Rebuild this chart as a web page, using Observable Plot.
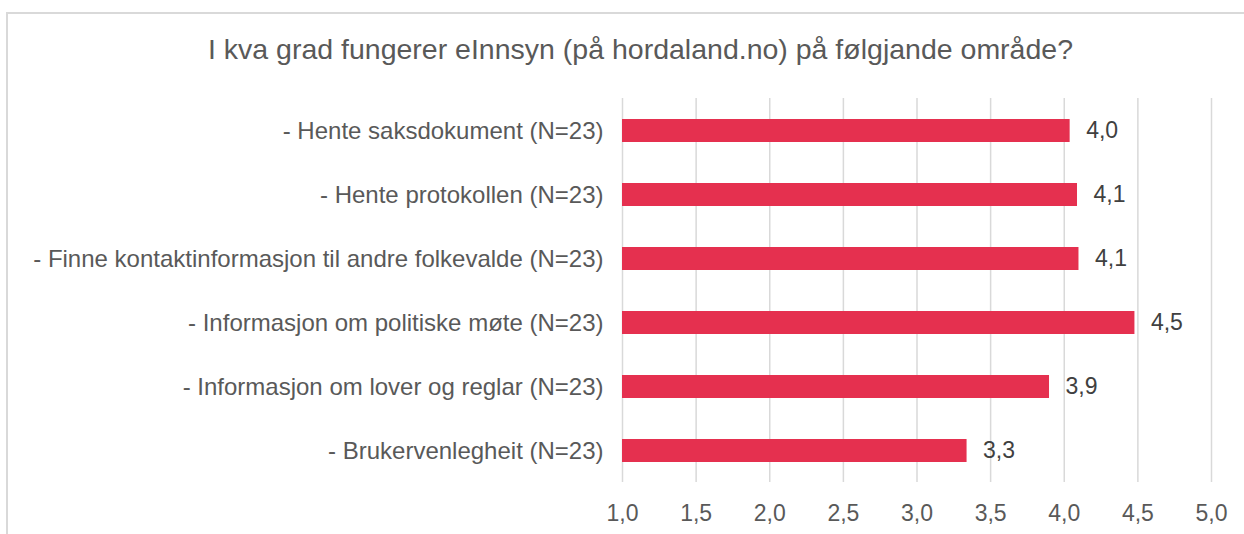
<!DOCTYPE html>
<html>
<head>
<meta charset="utf-8">
<script src="https://cdn.jsdelivr.net/npm/d3@7"></script>
<script src="https://cdn.jsdelivr.net/npm/@observablehq/plot@0.6"></script>
<style>
  html, body { margin: 0; padding: 0; background: #fff; }
  #wrap { position: relative; width: 1244px; height: 534px; overflow: hidden; font-family: "Liberation Sans", Arial, sans-serif; }
  #frame { position: absolute; left: 6px; top: 12px; width: 1400px; height: 700px; border-top: 2px solid #d9d9d9; border-left: 2px solid #d9d9d9; box-sizing: border-box; }
  #title { position: relative; height: 80px; box-sizing: border-box; padding-top: 33px; padding-left: 37px; line-height: 32px; font-size: 28.5px; color: #595959; text-align: center; white-space: nowrap; }
  #chart { position: relative; }
</style>
</head>
<body>
<div id="wrap">
  <div id="frame"></div>
  <div id="title">I kva grad fungerer eInnsyn (på hordaland.no) på følgjande område?</div>
  <div id="chart"></div>
</div>
<script>
const categories = [
  "- Hente saksdokument (N=23)",
  "- Hente protokollen (N=23)",
  "- Finne kontaktinformasjon til andre folkevalde (N=23)",
  "- Informasjon om politiske møte (N=23)",
  "- Informasjon om lover og reglar (N=23)",
  "- Brukervenlegheit (N=23)"
];
const values = [4.04, 4.09, 4.10, 4.48, 3.90, 3.34];
const xTicks = [1.0, 1.5, 2.0, 2.5, 3.0, 3.5, 4.0, 4.5, 5.0];
const baseline = 1;

const data = categories.map((c, i) => ({cat: c, value: values[i]}));
const fmt = v => v.toFixed(1).replace(".", ",");

const chart = Plot.plot({
  width: 1244,
  height: 454,
  marginLeft: 622,
  marginRight: 33,
  marginTop: 18,
  marginBottom: 52,
  style: {fontFamily: '"Liberation Sans", Arial, sans-serif', fontSize: "23px", color: "#595959", background: "transparent"},
  x: {domain: [1, 5]},
  y: {domain: categories, paddingInner: 0.645, paddingOuter: 0.3225},
  marks: [
    Plot.gridX(xTicks, {stroke: "#d9d9d9", strokeOpacity: 1, strokeWidth: 1.5}),
    Plot.barX(data, {x1: baseline, x2: "value", y: "cat", fill: "#E5304F"}),
    Plot.text(data, {x: "value", y: "cat", text: d => fmt(d.value), dx: 16, textAnchor: "start", fill: "#404040", fontSize: 23}),
    Plot.axisX({ticks: xTicks, tickFormat: fmt, tickSize: 0, tickPadding: 22, fontSize: 23, fill: "#595959", label: null}),
    Plot.axisY({tickSize: 0, tickPadding: 19, fontSize: 24, fill: "#595959", label: null})
  ]
});
document.getElementById("chart").appendChild(chart);
</script>
</body>
</html>
